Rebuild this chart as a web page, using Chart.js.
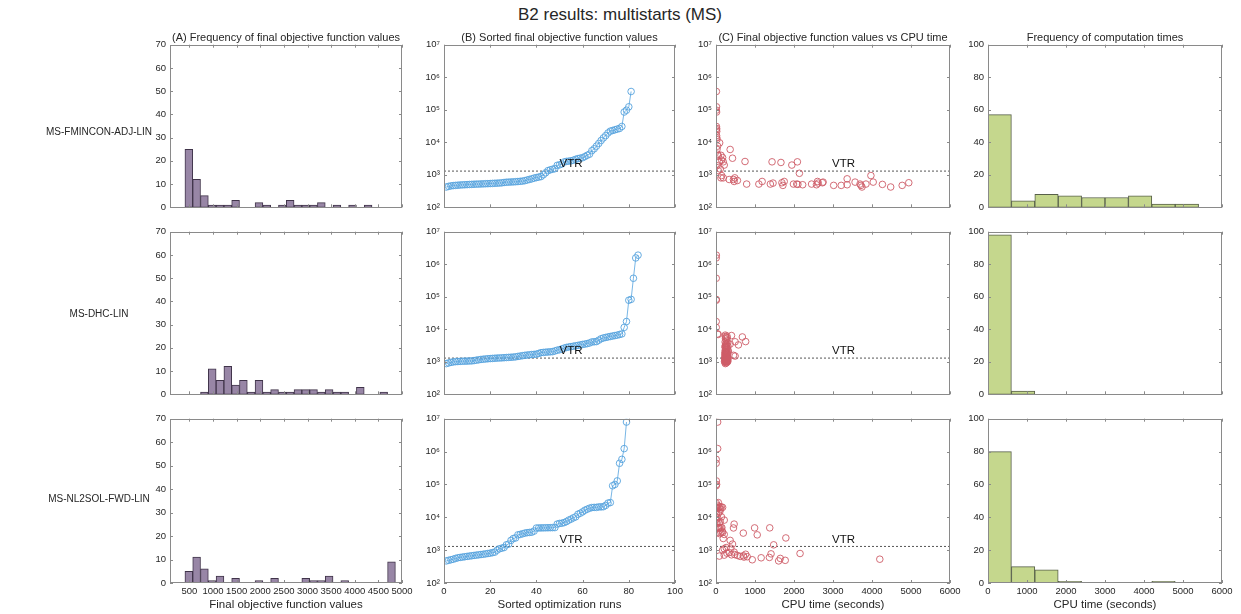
<!DOCTYPE html>
<html>
<head>
<meta charset="utf-8">
<script src="https://cdn.jsdelivr.net/npm/chart.js@4"></script>
<style>
  body { margin: 0; background: #fff; }
  #fig { position: relative; width: 1241px; height: 614px; overflow: hidden;
         font-family: "Liberation Sans", Arial, Helvetica, sans-serif; color: #262626; }
  #fig canvas { position: absolute; }
  .lbl { position: absolute; white-space: nowrap; transform: translate(-50%, -50%); }
</style>
</head>
<body>
<div id="fig"></div>
<script>
// ---- data ----
const methods = ['MS-FMINCON-ADJ-LIN', 'MS-DHC-LIN', 'MS-NL2SOL-FWD-LIN'];
const vtr = 1300;

// (A) histogram of final objective values (bins of 165)
const fvalBinCenters = [487.5, 652.5, 817.5, 982.5, 1147.5, 1312.5, 1477.5, 1642.5, 1807.5, 1972.5,
  2137.5, 2302.5, 2467.5, 2632.5, 2797.5, 2962.5, 3127.5, 3292.5, 3457.5, 3622.5,
  3787.5, 3952.5, 4117.5, 4282.5, 4447.5, 4612.5, 4777.5];
const fvalCountsFmincon = [25, 12, 5, 1, 1, 1, 3, 0, 0, 2, 1, 0, 1, 3, 1, 1, 1, 2, 0, 1, 0, 1, 0, 1, 0, 0, 0];
const fvalCountsDhc     = [0, 0, 1, 11, 6, 12, 4, 6, 1, 6, 1, 2, 1, 1, 2, 2, 2, 1, 2, 1, 1, 0, 3, 0, 0, 1, 0];
const fvalCountsNl2sol  = [5, 11, 6, 1, 3, 0, 2, 0, 0, 1, 0, 2, 0, 0, 0, 2, 1, 1, 3, 0, 1, 0, 0, 0, 0, 0, 9];

// (B) sorted final objective values
const sortedFmincon = [421, 440, 455, 465, 472, 478, 485, 490, 494, 498, 503, 507, 512, 516, 518, 522, 526, 530,
  534, 538, 543, 548, 553, 558, 565, 580, 590, 595, 600, 605, 612, 620, 630, 640, 660, 690, 720,
  750, 790, 820, 850, 880, 1000, 1150, 1340, 1420, 1480, 1540, 1950, 2020, 2150, 2480, 2580, 2630,
  2690, 2810, 2990, 3150, 3250, 3350, 3630, 3980, 4300, 5500, 6300, 7600, 9200, 11300, 13600, 16000,
  19300, 22000, 23000, 24200, 25400, 26600, 30600, 85000, 97000, 123000, 364000];
const sortedDhc = [880, 920, 960, 990, 1010, 1020, 1030, 1040, 1045, 1050, 1060, 1065, 1090, 1120, 1150, 1180,
  1200, 1220, 1240, 1255, 1270, 1285, 1300, 1310, 1320, 1335, 1350, 1365, 1380, 1395, 1420, 1460, 1500,
  1540, 1580, 1610, 1640, 1670, 1690, 1720, 1800, 1910, 1940, 1970, 2000, 2020, 2050, 2150, 2270, 2340,
  2480, 2630, 2760, 2850, 2930, 3010, 3100, 3190, 3300, 3420, 3500, 3620, 3780, 4070, 4120, 4180, 4620,
  5100, 5400, 5600, 5800, 6000, 6200, 6400, 6600, 6900, 7200, 11400, 17300, 78000, 83000, 370000,
  1560000, 1900000];
const sortedNl2sol = [470, 490, 510, 530, 560, 585, 600, 615, 630, 645, 660, 675, 690, 705, 720, 735, 750, 770,
  790, 810, 840, 870, 1000, 1100, 1150, 1200, 1450, 1530, 1980, 2260, 2350, 2920, 3010, 3150, 3300, 3400,
  3460, 3520, 3800, 4710, 4730, 4750, 4770, 4790, 4800, 4820, 4840, 4860, 6200, 6500, 6600, 6900, 7400,
  8200, 8800, 9600, 10300, 12400, 13300, 14600, 16400, 17600, 18900, 19800, 20000, 20000, 20700, 20700,
  21000, 23000, 27000, 28000, 91000, 100000, 128000, 440000, 580000, 1230000, 7900000];

// (C) final objective value vs CPU time
const cpuFmincon = [10, 12, 8, 14, 10, 16, 12, 18, 15, 20, 25, 93, 42, 25, 42, 59, 127, 169, 144, 85,
  186, 211, 25, 110, 59, 144, 127, 186, 363, 423, 744, 338, 448, 465, 549, 482, 786, 1099, 1183, 1394,
  1462, 1437, 1665, 1690, 1715, 1749, 1944, 1986, 2070, 2087, 2138, 2100, 2222, 2451, 2577, 2603, 2620,
  2729, 2746, 3017, 3211, 3363, 3363, 3566, 3693, 3718, 3743, 3845, 3972, 4031, 4267, 4479, 4774, 4943];
const fvalFmincon = [364000, 123000, 97000, 85000, 30600, 26600, 24200, 21600, 16000, 13600, 12100, 9600,
  7600, 6000, 4270, 3800, 3980, 3380, 2810, 2500, 2500, 1990, 1900, 1500, 1340, 946, 804, 804, 6000, 3230,
  2560, 716, 716, 623, 668, 804, 518, 518, 623, 518, 555, 2500, 2390, 569, 472, 623, 1990, 518, 518, 2500,
  1110, 506, 494, 518, 494, 623, 555, 569, 595, 472, 472, 750, 494, 595, 518, 472, 421, 518, 946, 595,
  506, 421, 472, 569];
const cpuDhc = [240, 265, 230, 290, 250, 275, 220, 305, 260, 245, 285, 235, 270, 255, 300, 228, 262, 280,
  248, 238, 292, 268, 252, 225, 310, 258, 242, 278, 232, 296, 263, 247, 490, 272, 448, 236, 284, 254, 226,
  302, 266, 244, 288, 231, 259, 276, 249, 318, 237, 267, 294, 253, 241, 283, 229, 307, 261, 246, 575, 273,
  363, 251, 298, 234, 490, 760, 269, 243, 289, 256, 676, 239, 281, 397, 237, 55, 40, 6, 5, 7, 5, 6, 5, 8];
const cpuNl2sol = [1606, 1775, 930, 4200, 1648, 1158, 1369, 718, 800, 620, 85, 700, 549, 211, 397, 480,
  760, 1411, 2155, 279, 338, 465, 169, 211, 380, 260, 1479, 423, 363, 186, 1791, 1057, 211, 101, 700, 42,
  169, 127, 160, 59, 448, 990, 1378, 127, 90, 25, 70, 150, 465, 5, 30, 85, 110, 211, 20, 42, 140, 8, 60,
  95, 15, 120, 50, 25, 169, 75, 10, 135, 100, 45, 5, 60, 5, 15, 8, 5, 5, 42, 42];

// (D) histogram of computation times (bins of 600 s)
const timeBinCenters = [300, 900, 1500, 2100, 2700, 3300, 3900, 4500, 5100, 5700];
const timeCountsFmincon = [57, 4, 8, 7, 6, 6, 7, 2, 2, 0];
const timeCountsDhc     = [98, 2, 0, 0, 0, 0, 0, 0, 0, 0];
const timeCountsNl2sol  = [80, 10, 8, 1, 0, 0, 0, 1, 0, 0];

// axis ticks
const fvalTicks = [500, 1000, 1500, 2000, 2500, 3000, 3500, 4000, 4500, 5000];
const runTicks = [0, 20, 40, 60, 80, 100];
const cpuTicks = [0, 1000, 2000, 3000, 4000, 5000, 6000];
const countTicksA = [0, 10, 20, 30, 40, 50, 60, 70];
const countTicksD = [0, 20, 40, 60, 80, 100];
const logTicks = [1e2, 1e3, 1e4, 1e5, 1e6, 1e7];

// ---- layout ----
const fig = document.getElementById('fig');
const FONT = '"Liberation Sans", Arial, Helvetica, sans-serif';
const INK = '#262626';
const BOX = '#8a8a8a';
const TICK_SIZE = 9.5;
const colLeft = [170, 444, 716, 988];
const colWidth = [232, 231, 234, 234];
const rowTop = [43, 230, 417];
const rowHeight = 166;
const rowLabelY = [131, 313, 498];
const padL = 52, padT = 8, padR = 14;

Chart.defaults.font.family = FONT;
Chart.defaults.color = INK;

function addText(txt, x, y, size) {
  const d = document.createElement('div');
  d.className = 'lbl';
  d.textContent = txt;
  d.style.left = x + 'px';
  d.style.top = y + 'px';
  d.style.fontSize = size + 'px';
  fig.appendChild(d);
}

function addCanvas(col, row) {
  const last = row === 2;
  const c = document.createElement('canvas');
  const w = colWidth[col] + padL + padR;
  const h = rowHeight + padT + (last ? 614 - (rowTop[row] + rowHeight) : 8);
  c.width = w; c.height = h;
  c.style.left = (colLeft[col] - padL) + 'px';
  c.style.top = (rowTop[row] - padT) + 'px';
  c.style.width = w + 'px';
  c.style.height = h + 'px';
  fig.appendChild(c);
  return c;
}

const sup = { 2: '\u00b2', 3: '\u00b3', 4: '\u2074', 5: '\u2075', 6: '\u2076', 7: '\u2077' };

function xAxis(min, max, ticks, title, last) {
  return {
    type: 'linear', min: min, max: max, offset: false,
    afterBuildTicks: s => { s.ticks = ticks.map(v => ({ value: v })); },
    afterFit: s => { s.height = last ? 31 : 0; },
    grid: { display: false, drawTicks: false },
    border: { display: false },
    ticks: { display: last, padding: 3, autoSkip: false, maxRotation: 0, minRotation: 0,
             font: { size: TICK_SIZE }, color: INK, callback: v => String(v) },
    title: { display: last, text: title, color: INK, font: { size: 11.5 }, padding: { top: 0, bottom: 2 } }
  };
}

function yAxis(type, min, max, ticks) {
  return {
    type: type, min: min, max: max,
    afterBuildTicks: s => { s.ticks = ticks.map(v => ({ value: v })); },
    afterFit: s => { s.width = padL; },
    grid: { display: false, drawTicks: false },
    border: { display: false },
    ticks: { padding: 4, autoSkip: false, font: { size: TICK_SIZE }, color: INK,
             callback: v => type === 'logarithmic' ? '10' + sup[Math.round(Math.log10(v))] : String(v) }
  };
}

// box round the plot area with MATLAB-like inward ticks, plus VTR label
const boxTicks = {
  id: 'boxTicks',
  afterDraw(chart, args, opts) {
    const { ctx, chartArea: a } = chart;
    const x = chart.scales.x, y = chart.scales.y;
    const L = 3;
    ctx.save();
    ctx.strokeStyle = BOX;
    ctx.lineWidth = 1;
    ctx.beginPath();
    x.ticks.forEach(t => {
      const p = Math.round(x.getPixelForValue(t.value)) + 0.5;
      ctx.moveTo(p, a.bottom); ctx.lineTo(p, a.bottom - L);
      ctx.moveTo(p, a.top); ctx.lineTo(p, a.top + L);
    });
    y.ticks.forEach(t => {
      const p = Math.round(y.getPixelForValue(t.value)) + 0.5;
      ctx.moveTo(a.left, p); ctx.lineTo(a.left + L, p);
      ctx.moveTo(a.right, p); ctx.lineTo(a.right - L, p);
    });
    ctx.stroke();
    ctx.strokeRect(Math.round(a.left) + 0.5, Math.round(a.top) + 0.5,
                   Math.round(a.right - a.left) - 1, Math.round(a.bottom - a.top) - 1);
    if (opts && opts.vtrX !== undefined) {
      ctx.fillStyle = '#111';
      ctx.font = '11.5px ' + FONT;
      ctx.textAlign = 'center';
      ctx.textBaseline = 'bottom';
      ctx.fillText('VTR', x.getPixelForValue(opts.vtrX), y.getPixelForValue(vtr) - 1);
    }
    ctx.restore();
  }
};

function baseOptions(scales, vtrX) {
  return {
    responsive: false, animation: false, devicePixelRatio: 1, events: [],
    layout: { padding: { left: 0, top: padT, right: padR, bottom: 0 } },
    plugins: { legend: { display: false }, tooltip: { enabled: false }, boxTicks: { vtrX: vtrX } },
    scales: scales
  };
}

function histChart(canvas, centers, counts, fill, edge, xmin, xmax, xticks, yticks, ymax, title, last) {
  return new Chart(canvas, {
    type: 'bar',
    data: { datasets: [{
      data: centers.map((c, i) => ({ x: c, y: counts[i] })),
      backgroundColor: fill, borderColor: edge, borderWidth: 1, borderSkipped: false,
      barPercentage: 1, categoryPercentage: 1
    }] },
    options: baseOptions({ x: xAxis(xmin, xmax, xticks, title, last), y: yAxis('linear', 0, ymax, yticks) }),
    plugins: [boxTicks]
  });
}

function sortedChart(canvas, values, last) {
  return new Chart(canvas, {
    type: 'scatter',
    data: { datasets: [
      { data: values.map((v, i) => ({ x: i + 1, y: v })), showLine: true,
        borderColor: 'rgb(86,163,222)', borderWidth: 0.8,
        pointRadius: 3.3, pointBorderWidth: 0.9, pointBorderColor: 'rgb(86,163,222)',
        pointBackgroundColor: 'rgba(255,255,255,0)' },
      { data: [{ x: 0, y: vtr }, { x: 100, y: vtr }], showLine: true, pointRadius: 0,
        borderColor: '#444', borderWidth: 0.9, borderDash: [2, 2] }
    ] },
    options: baseOptions({ x: xAxis(0, 100, runTicks, 'Sorted optimization runs', last),
                           y: yAxis('logarithmic', 1e2, 1e7, logTicks) }, 55),
    plugins: [boxTicks]
  });
}

function cpuChart(canvas, times, values, last) {
  return new Chart(canvas, {
    type: 'scatter',
    data: { datasets: [
      { data: times.map((t, i) => ({ x: t, y: values[i] })),
        pointRadius: 3.3, pointBorderWidth: 0.9, pointBorderColor: 'rgb(206,92,104)',
        pointBackgroundColor: 'rgba(255,255,255,0)' },
      { data: [{ x: 0, y: vtr }, { x: 6000, y: vtr }], showLine: true, pointRadius: 0,
        borderColor: '#444', borderWidth: 0.9, borderDash: [2, 2] }
    ] },
    options: baseOptions({ x: xAxis(0, 6000, cpuTicks, 'CPU time (seconds)', last),
                           y: yAxis('logarithmic', 1e2, 1e7, logTicks) }, 3270),
    plugins: [boxTicks]
  });
}

const fvalCounts = [fvalCountsFmincon, fvalCountsDhc, fvalCountsNl2sol];
const sortedVals = [sortedFmincon, sortedDhc, sortedNl2sol];
const cpuTimes = [cpuFmincon, cpuDhc, cpuNl2sol];
const cpuVals = [fvalFmincon, sortedDhc, sortedNl2sol];
const timeCounts = [timeCountsFmincon, timeCountsDhc, timeCountsNl2sol];

for (let r = 0; r < 3; r++) {
  const last = r === 2;
  histChart(addCanvas(0, r), fvalBinCenters, fvalCounts[r], 'rgb(152,134,166)', 'rgb(64,52,74)',
            89, 5000, fvalTicks, countTicksA, 70, 'Final objective function values', last);
  sortedChart(addCanvas(1, r), sortedVals[r], last);
  cpuChart(addCanvas(2, r), cpuTimes[r], cpuVals[r], last);
  histChart(addCanvas(3, r), timeBinCenters, timeCounts[r], 'rgb(197,215,141)', 'rgb(88,96,74)',
            0, 6000, cpuTicks, countTicksD, 100, 'CPU time (seconds)', last);
  addText(methods[r], 99, rowLabelY[r], 10);
}

addText('B2 results: multistarts (MS)', 620, 15, 17);
const panelTitles = ['(A) Frequency of final objective function values', '(B) Sorted final objective function values',
                     '(C) Final objective function values vs CPU time', 'Frequency of computation times'];
panelTitles.forEach((t, c) => addText(t, colLeft[c] + colWidth[c] / 2, 37, 11));
</script>
</body>
</html>
